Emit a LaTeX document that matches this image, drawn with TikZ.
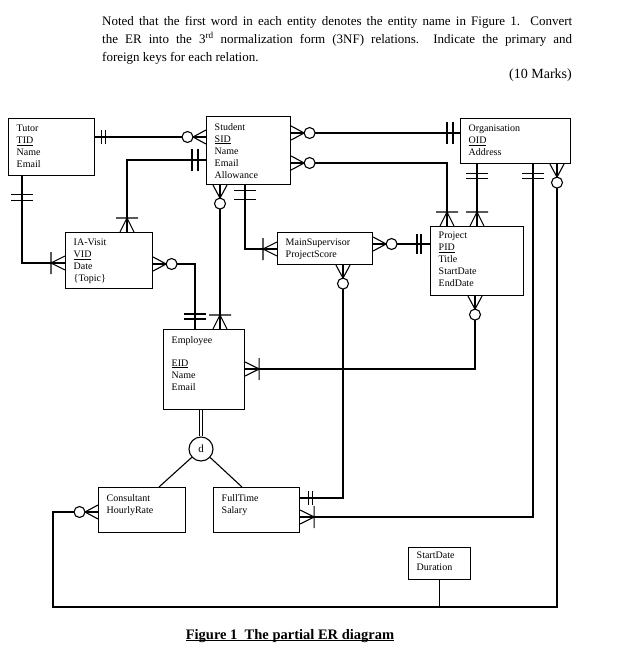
\documentclass[tikz,border=0pt]{standalone}
\usepackage{fontspec}
\setmainfont{Liberation Serif}
\newcommand\pkey[1]{\setbox0\hbox{#1}\leavevmode\rlap{\rule[-1.7pt]{\wd0}{0.9pt}}\box0}
\newcommand\capul[1]{\setbox0\hbox{#1}\leavevmode\rlap{\rule[-2.4pt]{\wd0}{1.1pt}}\box0}
\tikzset{
  ln/.style={line width=1.1pt},
  ent/.style={draw, line width=1.1pt, inner sep=0pt, anchor=north west},
  txt/.style={anchor=north west, inner sep=0pt, align=left, font=\fontsize{10}{12}\selectfont},
  para/.style={anchor=base west, inner sep=0pt, font=\fontsize{13}{15}\selectfont},
  pics/zm/.style={code={\draw[ln] (0,-7)--(13,0)--(0,7) (0,0)--(13,0); \draw[ln,fill=white] (18.5,0) circle (5.5);}},
  pics/om/.style={code={\draw[ln] (0,-7)--(14,0)--(0,7) (0,0)--(14,0) (14,-11)--(14,11);}},
  pics/oo/.style args={#1/#2/#3}{code={\draw[ln] (#1,-#3)--(#1,#3) (#2,-#3)--(#2,#3);}},
}
\begin{document}
\begin{tikzpicture}[x=1pt,y=-1pt]
\useasboundingbox (0,0) rectangle (617,667);
% question text
\node[para] (q1) at (102,25) {\makebox[470pt][s]{Noted that the first word in each entity denotes the entity name in Figure 1.\ \ Convert}};
\node[para] (q2) at (102,43) {\makebox[470pt][s]{the ER into the 3\textsuperscript{rd} normalization form (3NF) relations.\ \ Indicate the primary and}};
\node[para] (q3) at (102,61) {foreign keys for each relation.};
\node[para, anchor=base east, font=\fontsize{14}{16}\selectfont] (marks) at (572,78) {(10 Marks)};
% entities
\node[ent, minimum width=86, minimum height=57] (tutor) at (8,118) {};
\node[ent, minimum width=84, minimum height=68] (student) at (206,116) {};
\node[ent, minimum width=110, minimum height=45] (org) at (460,118) {};
\node[ent, minimum width=87, minimum height=56] (iavisit) at (65,232) {};
\node[ent, minimum width=95, minimum height=32] (mainsup) at (277,232) {};
\node[ent, minimum width=93, minimum height=69] (project) at (430,226) {};
\node[ent, minimum width=81, minimum height=80] (employee) at (163,329) {};
\node[ent, minimum width=87, minimum height=45] (consultant) at (98,487) {};
\node[ent, minimum width=86, minimum height=45] (fulltime) at (213,487) {};
\node[ent, minimum width=62, minimum height=32] (attr) at (408,547) {};
\node[draw, circle, line width=1.1pt, minimum size=24pt, inner sep=0pt, font=\fontsize{11}{12}\selectfont] (dcirc) at (201,449) {d};
% entity texts
\node[txt] (tutorT) at ([shift={(8.5,7)}]tutor.north west) {Tutor\\\pkey{TID}\\Name\\Email};
\node[txt] (studentT) at ([shift={(8.5,7)}]student.north west) {Student\\\pkey{SID}\\Name\\Email\\Allowance};
\node[txt] (orgT) at ([shift={(8.5,7)}]org.north west) {Organisation\\\pkey{OID}\\Address};
\node[txt] (iavisitT) at ([shift={(8.5,7)}]iavisit.north west) {IA-Visit\\\pkey{VID}\\Date\\\{Topic\}};
\node[txt] (mainsupT) at ([shift={(8.5,7)}]mainsup.north west) {MainSupervisor\\ProjectScore};
\node[txt] (projectT) at ([shift={(8.5,6)}]project.north west) {Project\\\pkey{PID}\\Title\\StartDate\\EndDate};
\node[txt] (employeeT) at ([shift={(8.5,7)}]employee.north west) {Employee\\[11pt]\pkey{EID}\\Name\\Email};
\node[txt] (consultantT) at ([shift={(8.5,7)}]consultant.north west) {Consultant\\HourlyRate};
\node[txt] (fulltimeT) at ([shift={(8.5,7)}]fulltime.north west) {FullTime\\Salary};
\node[txt] (attrT) at ([shift={(8.5,5)}]attr.north west) {StartDate\\Duration};
% corner coordinates of the long loop
\coordinate (br) at (557,607);
\coordinate (bl) at (53,607);
% connectors
\draw[ln] (tutor.east |- 0,137) -- (student.west |- 0,137);
\draw[ln] (student.west |- 0,160) -| (iavisit.north -| 127,0);
\draw[ln] (student.south -| 220,0) -- (employee.north -| 220,0);
\draw[ln] (student.south -| 245,0) |- (mainsup.west |- 0,249);
\draw[ln] (student.east |- 0,133) -- (org.west |- 0,133);
\draw[ln] (student.east |- 0,163) -| (project.north -| 447,0);
\draw[ln] (org.south -| 477,0) -- (project.north -| 477,0);
\draw[ln] (org.south -| 533,0) |- (fulltime.east |- 0,517);
\draw[ln] (org.south -| br) -- (br) -- (bl) -- (bl |- 0,512) -- (consultant.west |- 0,512);
\draw[ln] (attr.south) -- (attr.south |- br);
\draw[ln] (tutor.south -| 22,0) |- (iavisit.west |- 0,263);
\draw[ln] (iavisit.east |- 0,264) -| (employee.north -| 195,0);
\draw[ln] (employee.east |- 0,369) -| (project.south -| 475,0);
\draw[ln] (mainsup.east |- 0,244) -- (project.west |- 0,244);
\draw[ln] (mainsup.south -| 343,0) |- (fulltime.east |- 0,498);
\draw[line width=0.9pt, double distance=2.6pt] (employee.south -| dcirc.north) -- (dcirc.north);
\draw[ln] (dcirc) -- (consultant.north -| 159,0);
\draw[ln] (dcirc) -- (fulltime.north -| 242,0);
% cardinality markers
\pic[rotate=0]   at (tutor.east |- 0,137) {oo=6/10/7};
\pic[rotate=180] at (student.west |- 0,137) {zm};
\pic[rotate=180] at (student.west |- 0,160) {oo=8/14/11};
\pic[rotate=90]  at (iavisit.north -| 127,0) {om};
\pic[rotate=270] at (student.south -| 220,0) {zm};
\pic[rotate=90]  at (employee.north -| 220,0) {om};
\pic[rotate=270] at (student.south -| 245,0) {oo=5/14/11};
\pic[rotate=180] at (mainsup.west |- 0,249) {om};
\pic[rotate=0]   at (student.east |- 0,133) {zm};
\pic[rotate=180] at (org.west |- 0,133) {oo=7/13/11};
\pic[rotate=0]   at (student.east |- 0,163) {zm};
\pic[rotate=90]  at (project.north -| 447,0) {om};
\pic[rotate=270] at (org.south -| 477,0) {oo=9/14/11};
\pic[rotate=90]  at (project.north -| 477,0) {om};
\pic[rotate=270] at (org.south -| 533,0) {oo=9/14/11};
\pic[rotate=0]   at (fulltime.east |- 0,517) {om};
\pic[rotate=270] at (org.south -| br) {zm};
\pic[rotate=180] at (consultant.west |- 0,512) {zm};
\pic[rotate=270] at (tutor.south -| 22,0) {oo=18/24/11};
\pic[rotate=180] at (iavisit.west |- 0,263) {om};
\pic[rotate=0]   at (iavisit.east |- 0,264) {zm};
\pic[rotate=90]  at (employee.north -| 195,0) {oo=10/15/11};
\pic[rotate=0]   at (employee.east |- 0,369) {om};
\pic[rotate=270] at (project.south -| 475,0) {zm};
\pic[rotate=0]   at (mainsup.east |- 0,244) {zm};
\pic[rotate=180] at (project.west |- 0,244) {oo=9/13/10};
\pic[rotate=270] at (mainsup.south -| 343,0) {zm};
\pic[rotate=0]   at (fulltime.east |- 0,498) {oo=8/12/7};
% caption
\node[anchor=base, inner sep=0pt, font=\fontsize{14.5}{16}\selectfont\bfseries] (caption) at (290,639) {\capul{Figure 1\ \ The partial ER diagram}};
\end{tikzpicture}
\end{document}
